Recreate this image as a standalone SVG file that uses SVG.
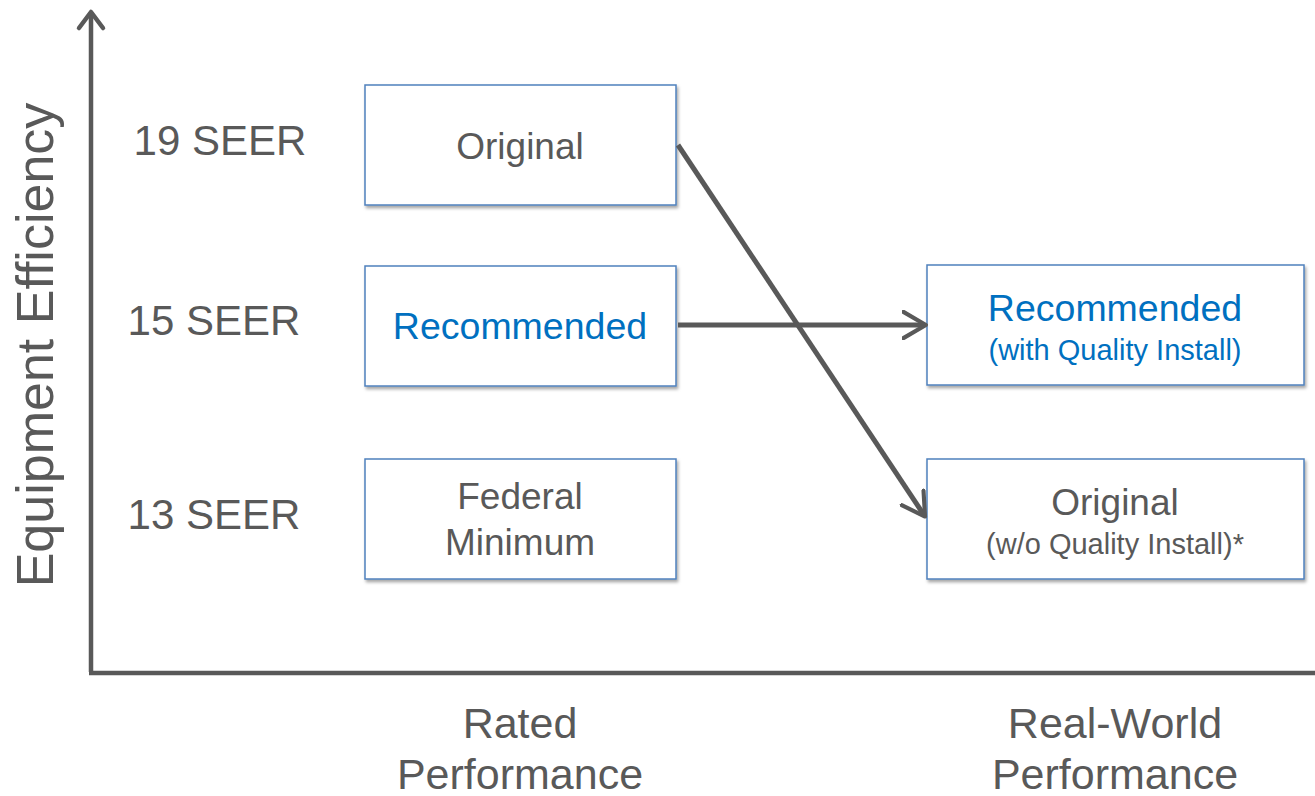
<svg xmlns="http://www.w3.org/2000/svg" width="1315" height="796" viewBox="0 0 1315 796">
<style>
.box{fill:#fff;stroke:#4F81BD;stroke-width:1.5}
.t{font-family:"Liberation Sans",Arial,sans-serif;fill:#595959;text-anchor:middle}
.b{fill:#0070C0}
.ax{stroke:#595959;stroke-width:4.5;fill:none}
.cn{stroke:#595959;stroke-width:5;fill:none}
</style>
<defs>
<filter id="sh" x="-5%" y="-5%" width="115%" height="120%">
<feDropShadow dx="1.5" dy="2.5" stdDeviation="1.5" flood-color="#000" flood-opacity="0.35"/>
</filter>
<marker id="ah2" viewBox="0 0 8 8" refX="6" refY="4" markerWidth="30" markerHeight="30" markerUnits="userSpaceOnUse" orient="auto">
<path d="M0.5,0.5 L6.5,4 L0.5,7.5" fill="none" stroke="#595959" stroke-width="1.1" stroke-linecap="round" stroke-linejoin="round"/>
</marker>
</defs>
<g id="axes">
<path class="ax" d="M91,672 L91,12"/>
<path d="M79,28 L91,12 L103,28" fill="none" stroke="#595959" stroke-width="4.5" stroke-linecap="round" stroke-linejoin="round"/>
<path class="ax" d="M89,673 L1315,673"/>
</g>
<g id="labels">
<text class="t" x="220" y="155" font-size="42">19 SEER</text>
<text class="t" x="214" y="335" font-size="42">15 SEER</text>
<text class="t" x="214" y="529" font-size="42">13 SEER</text>
<text class="t" font-size="52" transform="translate(53,345) rotate(-90)">Equipment Efficiency</text>
<text class="t" x="520" y="738" font-size="43">Rated</text>
<text class="t" x="520" y="789" font-size="43">Performance</text>
<text class="t" x="1115" y="738" font-size="43">Real-World</text>
<text class="t" x="1115" y="789" font-size="43">Performance</text>
</g>
<g id="rated-original">
<rect class="box" x="365" y="85" width="311" height="120" filter="url(#sh)"/>
<text class="t" x="520" y="159" font-size="37">Original</text>
</g>
<g id="rated-recommended">
<rect class="box" x="365" y="266" width="311" height="120" filter="url(#sh)"/>
<text class="t b" x="520" y="339" font-size="37.5">Recommended</text>
</g>
<g id="rated-federal">
<rect class="box" x="365" y="459" width="311" height="120" filter="url(#sh)"/>
<text class="t" x="520" y="509" font-size="37">Federal</text>
<text class="t" x="520" y="555" font-size="37">Minimum</text>
</g>
<g id="real-recommended">
<rect class="box" x="927" y="265" width="377" height="120" filter="url(#sh)"/>
<text class="t b" x="1115" y="321" font-size="37.5">Recommended</text>
<text class="t b" x="1115" y="360" font-size="29">(with Quality Install)</text>
</g>
<g id="real-original">
<rect class="box" x="927" y="459" width="377" height="120" filter="url(#sh)"/>
<text class="t" x="1115" y="515" font-size="37">Original</text>
<text class="t" x="1115" y="554" font-size="29">(w/o Quality Install)*</text>
</g>
<g id="connectors">
<path class="cn" d="M678,145 L924,515" marker-end="url(#ah2)"/>
<path class="cn" d="M678,325 L924,325" marker-end="url(#ah2)"/>
</g>
</svg>
